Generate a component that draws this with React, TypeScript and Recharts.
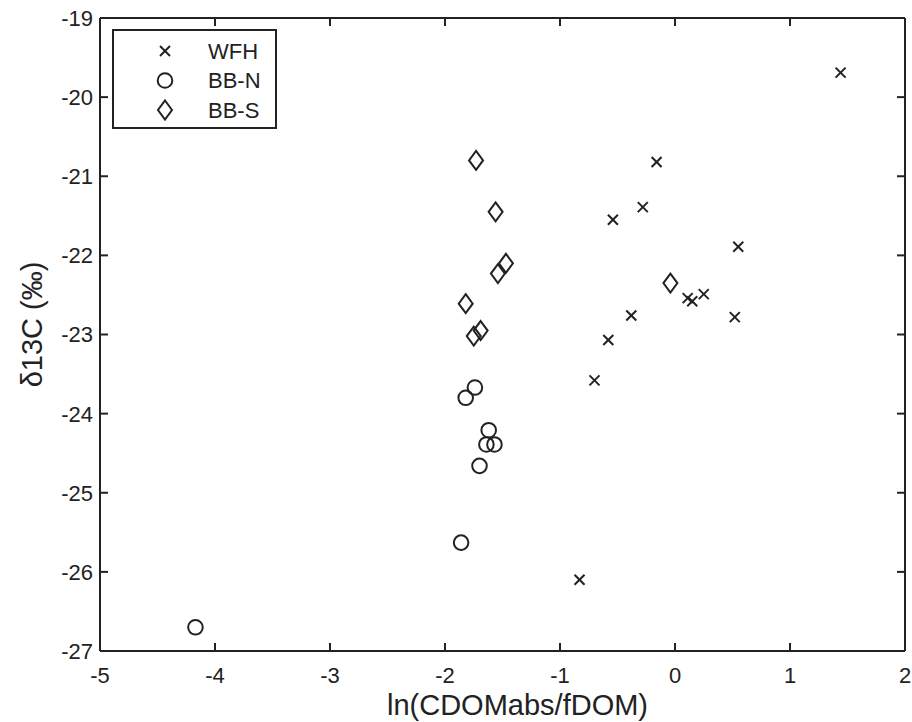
import { ScatterChart, Scatter, XAxis, YAxis } from "recharts";

const xTicks = [-5, -4, -3, -2, -1, 0, 1, 2];
const yTicks = [-27, -26, -25, -24, -23, -22, -21, -20, -19];

const wfhX = [1.44, -0.16, -0.28, -0.54, 0.55, 0.25, 0.11, 0.15, 0.52, -0.38, -0.58, -0.7, -0.83];
const wfhY = [-19.69, -20.82, -21.39, -21.55, -21.89, -22.49, -22.54, -22.58, -22.78, -22.76, -23.07, -23.58, -26.1];

const bbnX = [-1.74, -1.82, -1.62, -1.64, -1.57, -1.7, -1.86, -4.17];
const bbnY = [-23.67, -23.8, -24.21, -24.39, -24.39, -24.66, -25.63, -26.7];

const bbsX = [-1.73, -1.56, -1.47, -1.54, -1.82, -1.69, -1.75, -0.04];
const bbsY = [-20.8, -21.45, -22.1, -22.23, -22.61, -22.95, -23.02, -22.35];

const toPoints = (xs: number[], ys: number[]) => xs.map((x, i) => ({ x, y: ys[i] }));

const INK = "#222";
const FONT = "'Liberation Sans', Arial, sans-serif";
const TICK = 8;

const Cross = (p: any) => {
  const { cx, cy } = p;
  const s = 5;
  return (
    <g stroke={INK} strokeWidth={2}>
      <line x1={cx - s} y1={cy - s} x2={cx + s} y2={cy + s} />
      <line x1={cx - s} y1={cy + s} x2={cx + s} y2={cy - s} />
    </g>
  );
};

const Ring = (p: any) => <circle cx={p.cx} cy={p.cy} r={7.3} fill="none" stroke={INK} strokeWidth={2} />;

const Diamond = (p: any) => {
  const { cx, cy } = p;
  return (
    <polygon
      points={`${cx},${cy - 9.5} ${cx + 7},${cy} ${cx},${cy + 9.5} ${cx - 7},${cy}`}
      fill="none"
      stroke={INK}
      strokeWidth={2}
    />
  );
};

const legendItems = [
  { name: "WFH", Shape: Cross },
  { name: "BB-N", Shape: Ring },
  { name: "BB-S", Shape: Diamond },
];

const LegendBox = () => (
  <svg width={165} height={100} style={{ display: "block" }}>
    <rect x={1} y={1} width={163} height={98} fill="#fff" stroke={INK} strokeWidth={2} />
    {legendItems.map((it, i) => (
      <g key={it.name}>
        <it.Shape cx={53} cy={22 + i * 29.5} />
        <text x={96} y={22 + i * 29.5} dy="0.36em" fontSize={22} fontFamily={FONT} fill={INK}>
          {it.name}
        </text>
      </g>
    ))}
  </svg>
);

// tick renderers: inward tick marks, labels outside
const BottomTick = (p: any) => (
  <g>
    <line x1={p.x} y1={p.y} x2={p.x} y2={p.y - TICK} stroke={INK} strokeWidth={2} />
    <text x={p.x} y={p.y + 24} dy="0.36em" textAnchor="middle" fontSize={22} fontFamily={FONT} fill={INK}>
      {p.payload.value}
    </text>
  </g>
);
const TopTick = (p: any) => <line x1={p.x} y1={p.y} x2={p.x} y2={p.y + TICK} stroke={INK} strokeWidth={2} />;
const LeftTick = (p: any) => (
  <g>
    <line x1={p.x} y1={p.y} x2={p.x + TICK} y2={p.y} stroke={INK} strokeWidth={2} />
    <text x={p.x - 7} y={p.y} dy="0.36em" textAnchor="end" fontSize={22} fontFamily={FONT} fill={INK}>
      {p.payload.value}
    </text>
  </g>
);
const RightTick = (p: any) => <line x1={p.x} y1={p.y} x2={p.x - TICK} y2={p.y} stroke={INK} strokeWidth={2} />;

const XLabel = (p: any) => {
  const vb = p.viewBox;
  return (
    <text x={vb.x + vb.width / 2 + 15} y={715} textAnchor="middle" fontSize={29} fontFamily={FONT} fill={INK}>
      ln(CDOMabs/fDOM)
    </text>
  );
};

const YLabel = (p: any) => {
  const vb = p.viewBox;
  const cx = 42;
  const cy = vb.y + vb.height / 2 - 10;
  return (
    <text x={cx} y={cy} transform={`rotate(-90, ${cx}, ${cy})`} textAnchor="middle" fontSize={29} fontFamily={FONT} fill={INK}>
      δ13C (‰)
    </text>
  );
};

const axisLine = { stroke: INK, strokeWidth: 2 };

export default function App() {
  return (
    <div style={{ position: "absolute", left: 0, top: 0, width: 912, height: 722, background: "#fff" }}>
      <ScatterChart width={912} height={722} margin={{ top: 17, right: 6, bottom: 21, left: 40 }}>
        <XAxis
          xAxisId="b"
          type="number"
          dataKey="x"
          domain={[-5, 2]}
          ticks={xTicks}
          allowDataOverflow
          height={50}
          tickSize={0}
          tickMargin={0}
          tick={BottomTick}
          tickLine={false}
          axisLine={axisLine}
          label={XLabel}
        />
        <XAxis
          xAxisId="t"
          orientation="top"
          type="number"
          dataKey="x"
          domain={[-5, 2]}
          ticks={xTicks}
          allowDataOverflow
          height={1}
          tickSize={0}
          tickMargin={0}
          tick={TopTick}
          tickLine={false}
          axisLine={axisLine}
        />
        <YAxis
          yAxisId="l"
          type="number"
          dataKey="y"
          domain={[-27, -19]}
          ticks={yTicks}
          allowDataOverflow
          width={60}
          tickSize={0}
          tickMargin={0}
          tick={LeftTick}
          tickLine={false}
          axisLine={axisLine}
          label={YLabel}
        />
        <YAxis
          yAxisId="r"
          orientation="right"
          type="number"
          dataKey="y"
          domain={[-27, -19]}
          ticks={yTicks}
          allowDataOverflow
          width={1}
          tickSize={0}
          tickMargin={0}
          tick={RightTick}
          tickLine={false}
          axisLine={axisLine}
        />
        <Scatter name="WFH" data={toPoints(wfhX, wfhY)} xAxisId="b" yAxisId="l" shape={Cross} isAnimationActive={false} />
        <Scatter name="BB-N" data={toPoints(bbnX, bbnY)} xAxisId="b" yAxisId="l" shape={Ring} isAnimationActive={false} />
        <Scatter name="BB-S" data={toPoints(bbsX, bbsY)} xAxisId="b" yAxisId="l" shape={Diamond} isAnimationActive={false} />
      </ScatterChart>
      <div style={{ position: "absolute", left: 112, top: 29 }}>
        <LegendBox />
      </div>
    </div>
  );
}
